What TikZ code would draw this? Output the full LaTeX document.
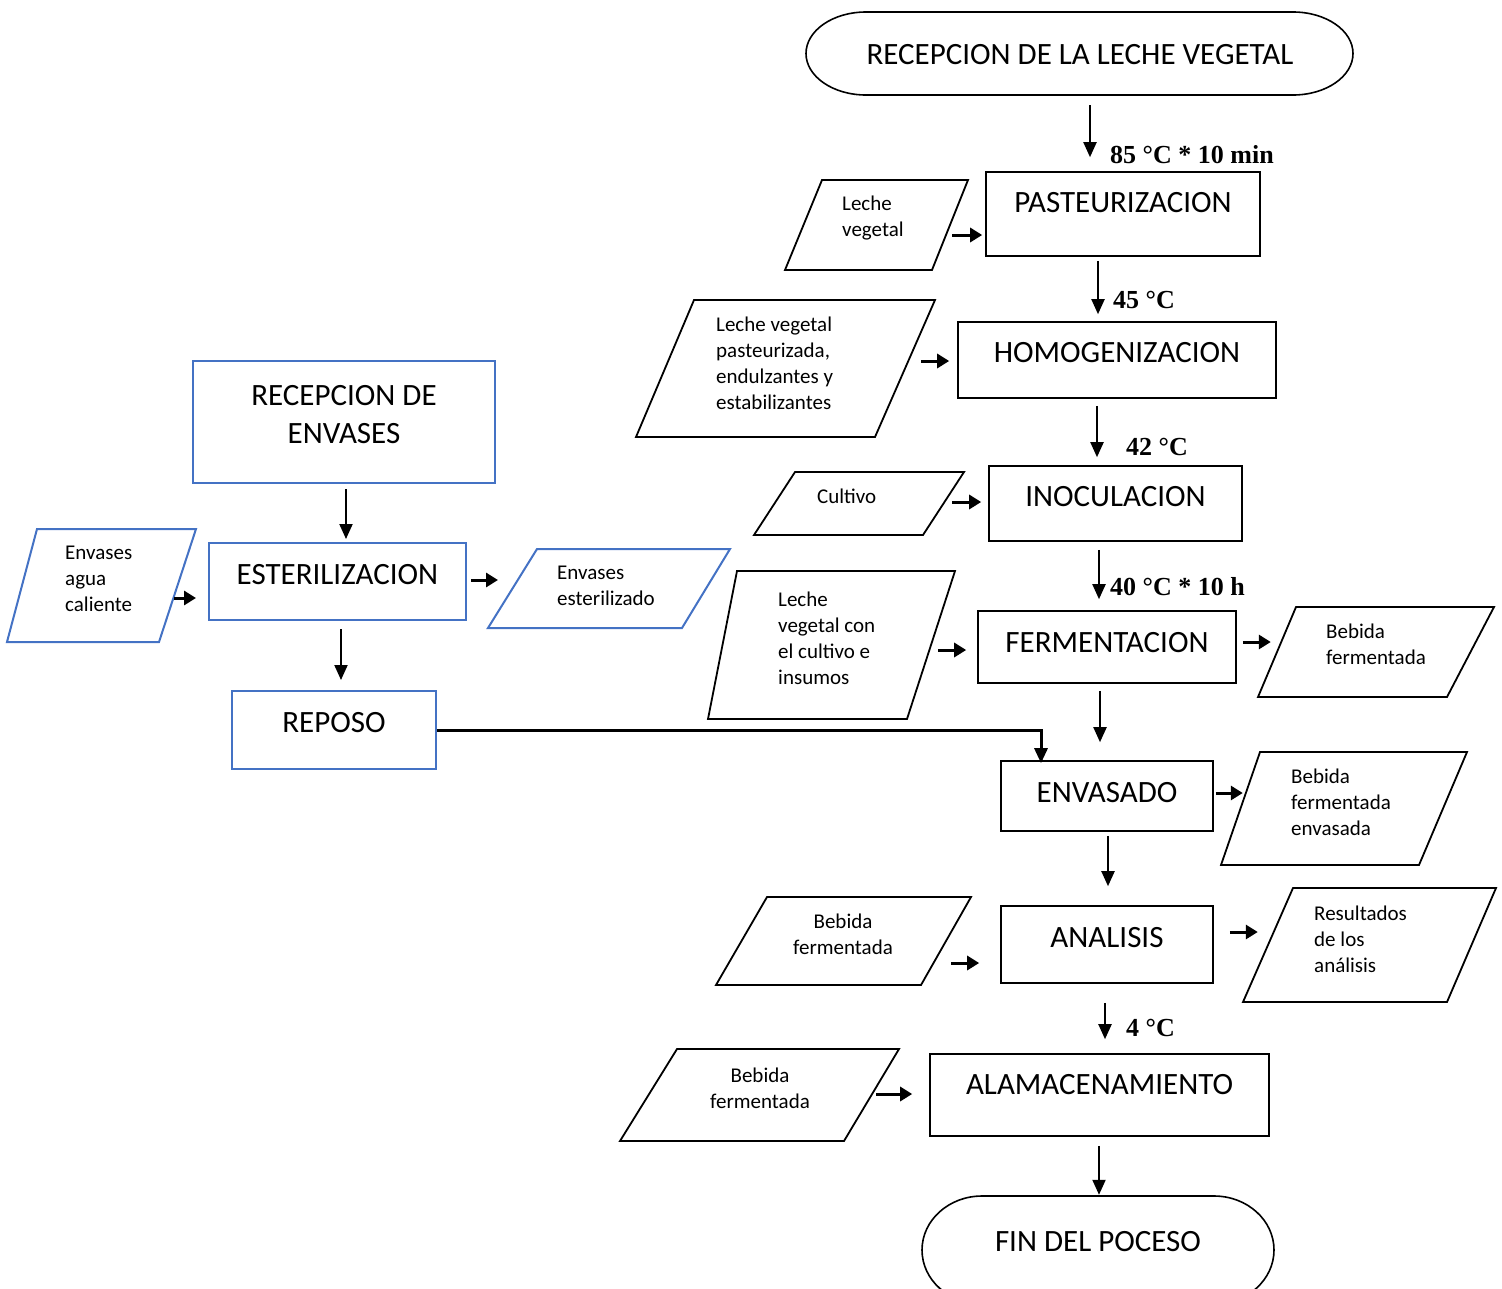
\documentclass[tikz,border=0pt]{standalone}
\usepackage{fontspec}
\setmainfont{Carlito}
\newfontfamily\tnr{Liberation Serif}
\usetikzlibrary{arrows.meta}
\definecolor{bl}{HTML}{4472C4}
\tikzset{
  box/.style={draw=black, line width=1.6pt, inner sep=0pt},
  bbox/.style={draw=bl, line width=2pt, inner sep=0pt},
  frame/.style={inner sep=0pt},
  title/.style={font=\fontsize{31}{38}\selectfont, inner sep=0pt, align=center},
  small/.style={font=\fontsize{21}{26}\selectfont, inner sep=0pt, align=left, anchor=west},
  smallc/.style={font=\fontsize{21}{26}\selectfont, inner sep=0pt, align=center},
  temp/.style={font=\tnr\bfseries\fontsize{26}{30}\selectfont, inner sep=0pt, anchor=west},
  pg/.style={draw=black, line width=1.8pt, line join=miter},
  bpg/.style={draw=bl, line width=2pt, line join=miter},
  arr/.style={draw=black, line width=2pt, -{Triangle[length=15pt,width=13pt]}},
  sarr/.style={draw=black, line width=3pt, -{Triangle[length=12pt,width=14pt]}},
}
\begin{document}
\begin{tikzpicture}[x=1pt,y=-1pt]
\useasboundingbox (0,0) rectangle (1502,1288);
\begin{scope}
\clip (0,0) rectangle (1502,1288);
% ---------- stadiums ----------
\node[frame, minimum width=547, minimum height=83] (top) at (1080,53.5) {};
\draw[line width=1.6pt] (866,12) -- (1293,12) arc[start angle=-90,end angle=90,x radius=60,y radius=41.5]
  -- (866,95) arc[start angle=90,end angle=270,x radius=60,y radius=41.5] -- cycle;
\node[title] (top-t) at (1080,55) {RECEPCION DE LA LECHE VEGETAL};

\node[frame, minimum width=352, minimum height=108] (fin) at (1098,1250) {};
\draw[line width=1.6pt] (982,1196) -- (1214,1196) arc[start angle=-90,end angle=90,x radius=60,y radius=54]
  -- (982,1304) arc[start angle=90,end angle=270,x radius=60,y radius=54] -- cycle;
\node[title] (fin-t) at (1098,1242) {FIN DEL POCESO};

% ---------- process boxes ----------
\node[box, minimum width=274, minimum height=84] (pas) at (1123,214) {};
\node[title] (pas-t) at (1123,203) {PASTEURIZACION};
\node[box, minimum width=318, minimum height=76] (hom) at (1117,360) {};
\node[title] (hom-t) at (1117,353) {HOMOGENIZACION};
\node[box, minimum width=253, minimum height=75] (ino) at (1115.5,503.5) {};
\node[title] (ino-t) at (1115.5,497) {INOCULACION};
\node[box, minimum width=258, minimum height=72] (fer) at (1107,647) {};
\node[title] (fer-t) at (1107,643) {FERMENTACION};
\node[box, minimum width=212, minimum height=70] (env) at (1107,796) {};
\node[title] (env-t) at (1107,793) {ENVASADO};
\node[box, minimum width=212, minimum height=77] (ana) at (1107,944.5) {};
\node[title] (ana-t) at (1107,938) {ANALISIS};
\node[box, minimum width=339, minimum height=82] (alm) at (1099.5,1095) {};
\node[title] (alm-t) at (1099.5,1085) {ALAMACENAMIENTO};

% ---------- blue boxes ----------
\node[bbox, minimum width=302, minimum height=122] (rde) at (344,422) {};
\node[title] (rde-t) at (344,415) {RECEPCION DE\\ENVASES};
\node[bbox, minimum width=257, minimum height=77] (est) at (337.5,581.5) {};
\node[title] (est-t) at (337.5,575) {ESTERILIZACION};
\node[bbox, minimum width=204, minimum height=78] (rep) at (334,730) {};
\node[title] (rep-t) at (334,723) {REPOSO};

% ---------- parallelograms ----------
\draw[pg] (822,180) -- (968,180) -- (932,270) -- (785,270) -- cycle;
\node[small] (p1) at (842,218) {Leche\\vegetal};
\draw[pg] (694,300) -- (935,300) -- (875,437) -- (636,437) -- cycle;
\node[small] (p2) at (716,363) {Leche vegetal\\pasteurizada,\\endulzantes y\\estabilizantes};
\draw[pg] (795,472) -- (964,472) -- (923,535) -- (754,535) -- cycle;
\node[small] (p3) at (817,496) {Cultivo};
\draw[pg] (737,571) -- (955,571) -- (907,719) -- (708,719) -- cycle;
\node[small] (p4) at (778,638) {Leche\\vegetal con\\el cultivo e\\insumos};
\draw[pg] (1296,607) -- (1494,607) -- (1447,697) -- (1258,697) -- cycle;
\node[small] (p5) at (1326,644.5) {Bebida\\fermentada};
\draw[pg] (1260,752) -- (1467,752) -- (1419,865) -- (1221,865) -- cycle;
\node[small] (p6) at (1291,802) {Bebida\\fermentada\\envasada};
\draw[pg] (767,897) -- (971,897) -- (921,985) -- (716,985) -- cycle;
\node[smallc] (p7) at (843,934) {Bebida\\fermentada};
\draw[pg] (1293,888) -- (1496,888) -- (1447,1002) -- (1243,1002) -- cycle;
\node[small] (p8) at (1314,939) {Resultados\\de los\\análisis};
\draw[pg] (677,1049) -- (899,1049) -- (844,1141) -- (620,1141) -- cycle;
\node[smallc] (p9) at (760,1088) {Bebida\\fermentada};
\draw[bpg] (37,529) -- (196,529) -- (159,642) -- (7,642) -- cycle;
\node[small] (b1) at (65,579) {Envases\\agua\\caliente};
\draw[bpg] (537,549) -- (730,549) -- (682,628) -- (488,628) -- cycle;
\node[small] (b2) at (557,586) {Envases\\esterilizado};

% ---------- temperature labels ----------
\node[temp] (t1) at (1110,155) {85 °C * 10 min};
\node[temp] (t2) at (1113,300) {45 °C};
\node[temp] (t3) at (1126,447) {42 °C};
\node[temp] (t4) at (1110,587) {40 °C * 10 h};
\node[temp] (t5) at (1126,1028) {4 °C};

% ---------- main arrows ----------
\draw[arr] ([shift={(10,10)}]top.south) -- ([shift={(-33,-14)}]pas.north);
\draw[arr] ([shift={(-25,4)}]pas.south) -- ([shift={(-19,-7)}]hom.north);
\draw[arr] ([shift={(-20,7)}]hom.south) -- ([shift={(-18.5,-8)}]ino.north);
\draw[arr] ([shift={(-16.5,8)}]ino.south) -- ([shift={(-8,-11)}]fer.north);
\draw[arr] ([shift={(-7,7)}]fer.south) -- ([shift={(-7,-18)}]env.north);
\draw[arr] ([shift={(1,4)}]env.south) -- ([shift={(1,-19)}]ana.north);
\draw[arr] ([shift={(-2,19)}]ana.south) -- ([shift={(5.5,-14)}]alm.north);
\draw[arr] ([shift={(-0.5,9)}]alm.south) -- ([shift={(1,-1)}]fin.north);
\draw[arr] ([shift={(2,5)}]rde.south) -- ([shift={(8.5,-3)}]est.north);
\draw[arr] ([shift={(3.5,8)}]est.south) -- ([shift={(7,-10)}]rep.north);
\draw[line width=3pt, -{Triangle[length=15pt,width=13pt]}] (rep.east) -| ([shift={(-66,3)}]env.north);

% ---------- side arrows ----------
\draw[sarr] ([shift={(-33,21)}]pas.west) -- ([shift={(-3,21)}]pas.west);
\draw[sarr] ([shift={(-36,1)}]hom.west) -- ([shift={(-8,1)}]hom.west);
\draw[sarr] ([shift={(-36,-1.5)}]ino.west) -- ([shift={(-7,-1.5)}]ino.west);
\draw[sarr] ([shift={(-39,3)}]fer.west) -- ([shift={(-11,3)}]fer.west);
\draw[sarr] ([shift={(6,-5)}]fer.east) -- ([shift={(34,-5)}]fer.east);
\draw[sarr] ([shift={(2,-3)}]env.east) -- ([shift={(29,-3)}]env.east);
\draw[sarr] ([shift={(-49,18.5)}]ana.west) -- ([shift={(-21,18.5)}]ana.west);
\draw[sarr] ([shift={(16,-12.5)}]ana.east) -- ([shift={(44,-12.5)}]ana.east);
\draw[sarr] ([shift={(-53,-1)}]alm.west) -- ([shift={(-17,-1)}]alm.west);
\draw[sarr] ([shift={(-34,16.5)}]est.west) -- ([shift={(-12,16.5)}]est.west);
\draw[sarr] ([shift={(4,-1.5)}]est.east) -- ([shift={(31,-1.5)}]est.east);
\end{scope}
\end{tikzpicture}
\end{document}
